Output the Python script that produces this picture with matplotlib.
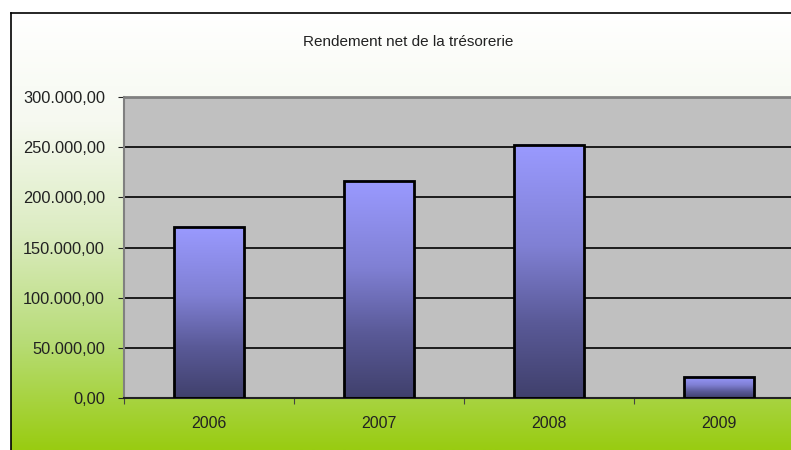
import numpy as np
import matplotlib
matplotlib.use('Agg')
import matplotlib.pyplot as plt
from matplotlib.colors import LinearSegmentedColormap
from matplotlib.ticker import FuncFormatter

# data
years = ['2006', '2007', '2008', '2009']
values = [170500, 216500, 252500, 21000]
title = 'Rendement net de la trésorerie'

plt.rcParams['font.family'] = ['Liberation Sans', 'DejaVu Sans']

W, H = 791, 450
fig = plt.figure(figsize=(W / 100, H / 100), dpi=100)
fig.patch.set_facecolor('white')

# chart area background: white -> yellow-green gradient
bg = fig.add_axes([11 / W, 0, 1 - 11 / W, (H - 13) / H], zorder=0)
bg_cmap = LinearSegmentedColormap.from_list('bg', [
    (0.0, '#ffffff'), (0.25, '#f6f9f0'), (0.5, '#dcecc2'),
    (0.75, '#b8dc78'), (1.0, '#99cc11')])
bg.imshow(np.linspace(0, 1, 256).reshape(-1, 1), cmap=bg_cmap, aspect='auto',
          extent=(0, 1, 0, 1))
bg.set_xlim(0, 1)
bg.set_ylim(0, 1)
bg.set_xticks([])
bg.set_yticks([])
for s in ['right', 'bottom']:
    bg.spines[s].set_visible(False)
for s in ['left', 'top']:
    bg.spines[s].set_color('black')
    bg.spines[s].set_linewidth(1.2)

# plot area
left, right, top, bottom = 124, 804, 97, 398
ax = fig.add_axes([left / W, (H - bottom) / H, (right - left) / W, (bottom - top) / H], zorder=1)
ax.set_facecolor('#c0c0c0')
ax.set_xlim(0, len(years))
ax.set_ylim(0, 300000)
ax.set_yticks(np.arange(0, 300001, 50000))
ax.yaxis.set_major_formatter(FuncFormatter(
    lambda v, p: '{:,.2f}'.format(v).replace(',', ' ').replace('.', ',').replace(' ', '.')))
ax.grid(axis='y', color='black', linewidth=1.2, zorder=1)
ax.set_axisbelow(True)

ax.set_xticks(np.arange(0, len(years) + 1))
ax.set_xticklabels([])
ax.set_xticks(np.arange(len(years)) + 0.5, minor=True)
ax.set_xticklabels(years, minor=True)
ax.tick_params(axis='x', which='minor', length=0, pad=13, labelsize=11.5, labelcolor='#222222')
ax.tick_params(axis='x', which='major', length=4, color='#444444', direction='out')
ax.tick_params(axis='y', length=4.3, color='#222222', direction='out', pad=9.5,
               labelsize=11.8, labelcolor='#222222')

ax.spines['top'].set_color('#808080')
ax.spines['top'].set_linewidth(2)
ax.spines['left'].set_color('#808080')
ax.spines['left'].set_linewidth(1.5)
ax.spines['bottom'].set_color('#222222')
ax.spines['bottom'].set_linewidth(1.5)
ax.spines['right'].set_visible(False)

bar_cmap = LinearSegmentedColormap.from_list('bar', [
    (0.0, '#40406c'), (0.3, '#5a5a98'), (0.6, '#8080d4'), (1.0, '#9a9aff')])
grad = np.linspace(1, 0, 256).reshape(-1, 1)
bw = 0.41
for i, v in enumerate(values):
    x0 = i + 0.5 - bw / 2
    ax.imshow(grad, cmap=bar_cmap, vmin=0, vmax=1, aspect='auto',
              extent=(x0, x0 + bw, 0, v), zorder=2)
    ax.bar(i + 0.5, v, width=bw, facecolor='none', edgecolor='black',
           linewidth=2, zorder=3)
ax.set_xlim(0, len(years))
ax.set_ylim(0, 300000)

fig.text(408 / W, 1 - 42 / H, title, ha='center', va='center', fontsize=11,
         color='#222222')

fig.savefig('out.png', dpi=100)
